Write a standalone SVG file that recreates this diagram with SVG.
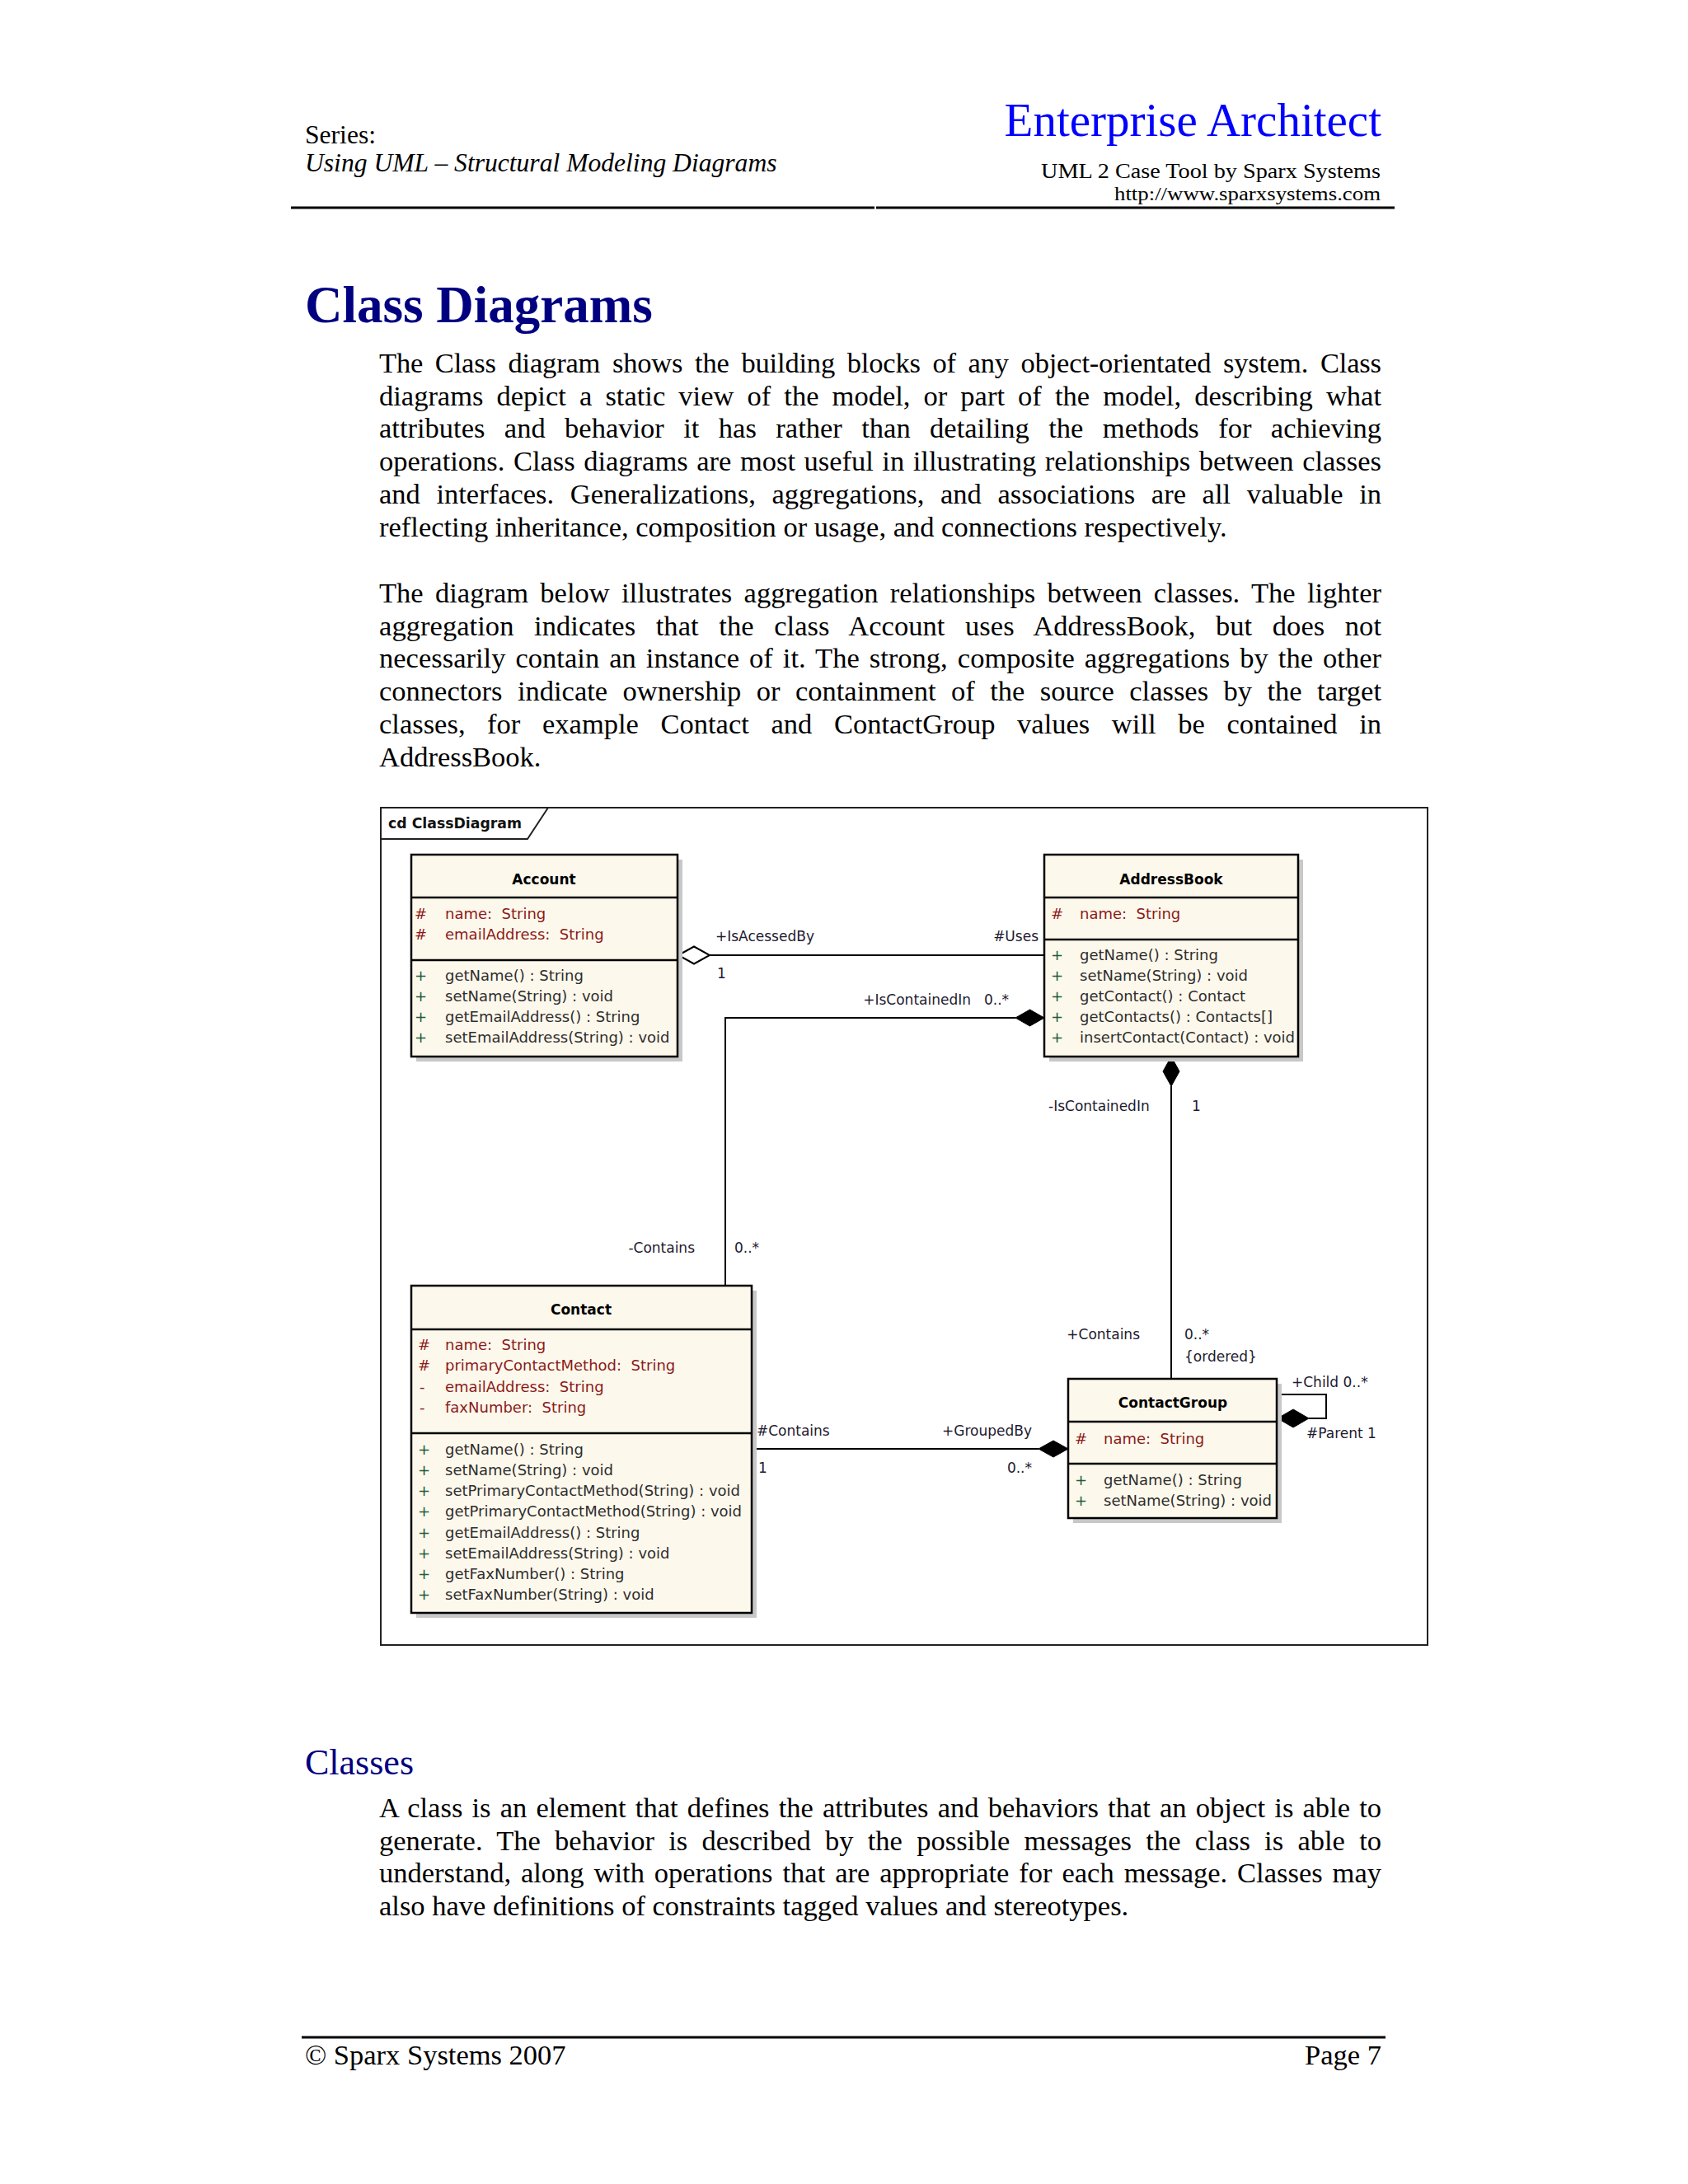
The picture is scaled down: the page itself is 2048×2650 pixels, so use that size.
<svg xmlns="http://www.w3.org/2000/svg" width="2048" height="2650" viewBox="0 0 2048 2650">
<defs>
<style>
.serif{font-family:"Liberation Serif","Times New Roman",serif;fill:#000}
.body{font-family:"Liberation Serif","Times New Roman",serif;font-size:34.5px;fill:#000}
.navy{fill:#000080}
.cls{fill:#FDF8EC;stroke:#000;stroke-width:2.5}
.shadow{fill:#C8C8C8}
.div{stroke:#000;stroke-width:2.5}
.ttl{font-family:"DejaVu Sans",sans-serif;font-size:17px;font-weight:bold;fill:#000;text-anchor:middle}
.attr{font-family:"DejaVu Sans",sans-serif;font-size:18px;fill:#8B1A1A;white-space:pre}
.meth{font-family:"DejaVu Sans",sans-serif;font-size:18px;fill:#2E2E2E;white-space:pre}
.plus{fill:#1E5A3C}
.lbl{font-family:"DejaVu Sans",sans-serif;font-size:17px;fill:#221a30}
.end{text-anchor:end}
.conn{stroke:#000;stroke-width:2;fill:none}
</style>
</defs>
<rect x="0" y="0" width="2048" height="2650" fill="#FFFFFF"/>

<!-- Header -->
<g id="header">
<text class="serif" x="370" y="174" font-size="31.6">Series:</text>
<text class="serif" x="370" y="208" font-size="31.6" font-style="italic">Using UML – Structural Modeling Diagrams</text>
<text x="1676" y="165" font-family="'Liberation Serif','Times New Roman',serif" font-size="57" fill="#0000FF" text-anchor="end">Enterprise Architect</text>
<text class="serif" x="1263" y="216" font-size="26" textLength="412" lengthAdjust="spacingAndGlyphs">UML 2 Case Tool by Sparx Systems</text>
<text class="serif" x="1352" y="243" font-size="24" textLength="323" lengthAdjust="spacingAndGlyphs">http://www.sparxsystems.com</text>
<line x1="353" y1="252" x2="1061" y2="252" stroke="#000" stroke-width="3"/>
<line x1="1063" y1="252" x2="1692" y2="252" stroke="#000" stroke-width="3"/>
</g>

<!-- Title and text -->
<g id="intro">
<text class="serif navy" x="370" y="391" font-size="63" font-weight="bold">Class Diagrams</text>
<text class="body" x="460" y="452" word-spacing="6.3" textLength="1216" lengthAdjust="spacing">The Class diagram shows the building blocks of any object-orientated system. Class</text>
<text class="body" x="460" y="491.7" word-spacing="7.5" textLength="1216" lengthAdjust="spacing">diagrams depict a static view of the model, or part of the model, describing what</text>
<text class="body" x="460" y="531.4" word-spacing="14.8" textLength="1216" lengthAdjust="spacing">attributes and behavior it has rather than detailing the methods for achieving</text>
<text class="body" x="460" y="571.1" word-spacing="1.9" textLength="1216" lengthAdjust="spacing">operations. Class diagrams are most useful in illustrating relationships between classes</text>
<text class="body" x="460" y="610.8" word-spacing="11" textLength="1216" lengthAdjust="spacing">and interfaces. Generalizations, aggregations, and associations are all valuable in</text>
<text class="body" x="460" y="650.5">reflecting inheritance, composition or usage, and connections respectively.</text>

<text class="body" x="460" y="731" word-spacing="5.7" textLength="1216" lengthAdjust="spacing">The diagram below illustrates aggregation relationships between classes. The lighter</text>
<text class="body" x="460" y="770.7" word-spacing="15.9" textLength="1216" lengthAdjust="spacing">aggregation indicates that the class Account uses AddressBook, but does not</text>
<text class="body" x="460" y="810.4" word-spacing="3.4" textLength="1216" lengthAdjust="spacing">necessarily contain an instance of it. The strong, composite aggregations by the other</text>
<text class="body" x="460" y="850.1" word-spacing="9.8" textLength="1216" lengthAdjust="spacing">connectors indicate ownership or containment of the source classes by the target</text>
<text class="body" x="460" y="889.8" word-spacing="18" textLength="1216" lengthAdjust="spacing">classes, for example Contact and ContactGroup values will be contained in</text>
<text class="body" x="460" y="929.5">AddressBook.</text>
</g>

<!-- Diagram frame -->
<g id="frame">
<rect x="462" y="980" width="1270" height="1016" fill="#FFFFFF" stroke="#222" stroke-width="2"/>
<path d="M462,1018 H640 L665,980" fill="none" stroke="#222" stroke-width="2"/>
<text x="471" y="1005" font-family="'DejaVu Sans',sans-serif" font-size="17" font-weight="bold" fill="#111" textLength="162" lengthAdjust="spacingAndGlyphs">cd ClassDiagram</text>
</g>

<!-- Connectors -->
<g id="connectors">
<line class="conn" x1="861" y1="1159" x2="1267" y2="1159"/>
<polygon points="823,1159 842,1148.5 861,1159 842,1169.5" fill="#FFFFFF" stroke="#000" stroke-width="2"/>
<path class="conn" d="M1232,1235 H880 V1560"/>
<polygon points="1267,1235 1249.5,1225 1232,1235 1249.5,1245" fill="#000" stroke="#000" stroke-width="1"/>
<line class="conn" x1="1421" y1="1318" x2="1421" y2="1673"/>
<polygon points="1421,1282 1411,1300 1421,1318 1431,1300" fill="#000" stroke="#000" stroke-width="1"/>
<line class="conn" x1="912" y1="1758" x2="1260" y2="1758"/>
<polygon points="1296,1758 1278,1748 1260,1758 1278,1768" fill="#000" stroke="#000" stroke-width="1"/>
<path class="conn" d="M1549,1692 H1609 V1721 H1588"/>
<polygon points="1550,1721 1569,1710 1588,1721 1569,1732" fill="#000" stroke="#000" stroke-width="1"/>

<text class="lbl" x="868" y="1142">+IsAcessedBy</text>
<text class="lbl" x="870" y="1187">1</text>
<text class="lbl end" x="1260" y="1142">#Uses</text>
<text class="lbl end" x="1178" y="1219">+IsContainedIn</text>
<text class="lbl" x="1194" y="1219">0..*</text>
<text class="lbl end" x="843" y="1520">-Contains</text>
<text class="lbl" x="891" y="1520">0..*</text>
<text class="lbl" x="1272" y="1348">-IsContainedIn</text>
<text class="lbl" x="1446" y="1348">1</text>
<text class="lbl end" x="1383" y="1625">+Contains</text>
<text class="lbl" x="1437" y="1625">0..*</text>
<text class="lbl" x="1437" y="1652">{ordered}</text>
<text class="lbl" x="1567" y="1683">+Child 0..*</text>
<text class="lbl" x="1585" y="1745">#Parent 1</text>
<text class="lbl" x="918" y="1742">#Contains</text>
<text class="lbl" x="920" y="1787">1</text>
<text class="lbl end" x="1252" y="1742">+GroupedBy</text>
<text class="lbl end" x="1252" y="1787">0..*</text>
</g>

<!-- Account -->
<g id="Account">
<rect class="shadow" x="505" y="1043" width="323" height="245"/>
<rect class="cls" x="499" y="1037" width="323" height="245"/>
<line class="div" x1="499" y1="1089" x2="822" y2="1089"/>
<line class="div" x1="499" y1="1165" x2="822" y2="1165"/>
<text class="ttl" x="660" y="1073">Account</text>
<text class="attr" x="503" y="1115">#</text><text class="attr" x="540" y="1115">name:  String</text>
<text class="attr" x="503" y="1140">#</text><text class="attr" x="540" y="1140">emailAddress:  String</text>
<text class="meth plus" x="503" y="1190">+</text><text class="meth" x="540" y="1190">getName() : String</text>
<text class="meth plus" x="503" y="1215">+</text><text class="meth" x="540" y="1215">setName(String) : void</text>
<text class="meth plus" x="503" y="1240">+</text><text class="meth" x="540" y="1240">getEmailAddress() : String</text>
<text class="meth plus" x="503" y="1265">+</text><text class="meth" x="540" y="1265">setEmailAddress(String) : void</text>
</g>

<!-- AddressBook -->
<g id="AddressBook">
<rect class="shadow" x="1273" y="1043" width="308" height="245"/>
<rect class="cls" x="1267" y="1037" width="308" height="245"/>
<line class="div" x1="1267" y1="1089" x2="1575" y2="1089"/>
<line class="div" x1="1267" y1="1140" x2="1575" y2="1140"/>
<text class="ttl" x="1421" y="1073">AddressBook</text>
<text class="attr" x="1275" y="1115">#</text><text class="attr" x="1310" y="1115">name:  String</text>
<text class="meth plus" x="1275" y="1165">+</text><text class="meth" x="1310" y="1165">getName() : String</text>
<text class="meth plus" x="1275" y="1190">+</text><text class="meth" x="1310" y="1190">setName(String) : void</text>
<text class="meth plus" x="1275" y="1215">+</text><text class="meth" x="1310" y="1215">getContact() : Contact</text>
<text class="meth plus" x="1275" y="1240">+</text><text class="meth" x="1310" y="1240">getContacts() : Contacts[]</text>
<text class="meth plus" x="1275" y="1265">+</text><text class="meth" x="1310" y="1265">insertContact(Contact) : void</text>
</g>

<!-- Contact -->
<g id="Contact">
<rect class="shadow" x="505" y="1566" width="413" height="397"/>
<rect class="cls" x="499" y="1560" width="413" height="397"/>
<line class="div" x1="499" y1="1613" x2="912" y2="1613"/>
<line class="div" x1="499" y1="1739" x2="912" y2="1739"/>
<text class="ttl" x="705" y="1595">Contact</text>
<text class="attr" x="507" y="1638">#</text><text class="attr" x="540" y="1638">name:  String</text>
<text class="attr" x="507" y="1663">#</text><text class="attr" x="540" y="1663">primaryContactMethod:  String</text>
<text class="attr" x="509" y="1689">-</text><text class="attr" x="540" y="1689">emailAddress:  String</text>
<text class="attr" x="509" y="1714">-</text><text class="attr" x="540" y="1714">faxNumber:  String</text>
<text class="meth plus" x="507" y="1765">+</text><text class="meth" x="540" y="1765">getName() : String</text>
<text class="meth plus" x="507" y="1790">+</text><text class="meth" x="540" y="1790">setName(String) : void</text>
<text class="meth plus" x="507" y="1815">+</text><text class="meth" x="540" y="1815">setPrimaryContactMethod(String) : void</text>
<text class="meth plus" x="507" y="1840">+</text><text class="meth" x="540" y="1840">getPrimaryContactMethod(String) : void</text>
<text class="meth plus" x="507" y="1866">+</text><text class="meth" x="540" y="1866">getEmailAddress() : String</text>
<text class="meth plus" x="507" y="1891">+</text><text class="meth" x="540" y="1891">setEmailAddress(String) : void</text>
<text class="meth plus" x="507" y="1916">+</text><text class="meth" x="540" y="1916">getFaxNumber() : String</text>
<text class="meth plus" x="507" y="1941">+</text><text class="meth" x="540" y="1941">setFaxNumber(String) : void</text>
</g>

<!-- ContactGroup -->
<g id="ContactGroup">
<rect class="shadow" x="1302" y="1679" width="253" height="169"/>
<rect class="cls" x="1296" y="1673" width="253" height="169"/>
<line class="div" x1="1296" y1="1725" x2="1549" y2="1725"/>
<line class="div" x1="1296" y1="1776" x2="1549" y2="1776"/>
<text class="ttl" x="1423" y="1708">ContactGroup</text>
<text class="attr" x="1304" y="1752">#</text><text class="attr" x="1339" y="1752">name:  String</text>
<text class="meth plus" x="1304" y="1802">+</text><text class="meth" x="1339" y="1802">getName() : String</text>
<text class="meth plus" x="1304" y="1827">+</text><text class="meth" x="1339" y="1827">setName(String) : void</text>
</g>

<!-- Classes section -->
<g id="classes-section">
<text class="serif navy" x="370" y="2153" font-size="44">Classes</text>
<text class="body" x="460" y="2205" word-spacing="2.5" textLength="1216" lengthAdjust="spacing">A class is an element that defines the attributes and behaviors that an object is able to</text>
<text class="body" x="460" y="2244.7" word-spacing="8.6" textLength="1216" lengthAdjust="spacing">generate. The behavior is described by the possible messages the class is able to</text>
<text class="body" x="460" y="2284.4" word-spacing="3.3" textLength="1216" lengthAdjust="spacing">understand, along with operations that are appropriate for each message. Classes may</text>
<text class="body" x="460" y="2324.1">also have definitions of constraints tagged values and stereotypes.</text>
</g>

<!-- Footer -->
<g id="footer">
<line x1="366" y1="2472" x2="1681" y2="2472" stroke="#000" stroke-width="3"/>
<text class="body" x="370" y="2505">© Sparx Systems 2007</text>
<text class="body" x="1676" y="2505" text-anchor="end">Page 7</text>
</g>
</svg>
